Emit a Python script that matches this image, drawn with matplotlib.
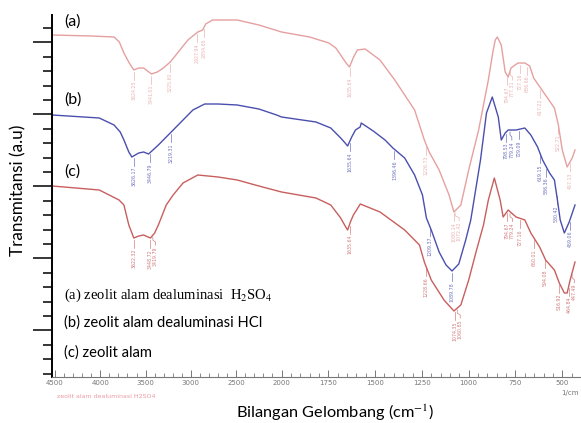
import numpy as np
import matplotlib.pyplot as plt

# Spectra: wavenumber (cm-1) and transmittance (a.u.)
wn_a = [4530, 4100, 3848, 3790, 3739, 3680, 3630, 3575, 3522, 3435, 3370, 3304, 3228, 3130,
        3033, 2924, 2870, 2837, 2761, 2620, 2489, 2250, 2000, 1850, 1747, 1710, 1684, 1655,
        1637, 1615, 1595, 1553, 1474, 1395, 1289, 1237, 1211, 1158, 1105, 1079, 1042, 1000,
        947, 895, 870, 858, 847, 826, 805, 789, 774, 737, 700, 674, 653, 616, 579, 542,
        521, 500, 474, 447, 432]
t_a = [342, 341, 340, 335, 324, 314, 307, 309, 309, 303, 305, 309, 315, 326,
       337, 345, 347, 353, 357, 357, 357, 352, 345, 340, 334, 329, 322, 314,
       310, 320, 327, 328, 317, 297, 267, 237, 225, 207, 182, 165, 172, 207,
       247, 297, 326, 337, 340, 332, 305, 300, 309, 314, 314, 311, 299, 289, 279, 269,
       252, 227, 210, 219, 227]

wn_b = [4530, 4011, 3848, 3780, 3739, 3685, 3652, 3576, 3522, 3467, 3359, 3250, 3141, 2978,
        2848, 2700, 2489, 2250, 2054, 2000, 1816, 1737, 1684, 1660, 1647, 1625, 1605, 1580,
        1574, 1510, 1447, 1405, 1342, 1289, 1247, 1226, 1200, 1158, 1121, 1089, 1053, 1016,
        989, 937, 905, 874, 842, 826, 805, 789, 747, 700, 668, 632, 605, 568, 542, 526,
        511, 489, 463, 432]
t_b = [262, 259, 252, 245, 237, 225, 220, 224, 225, 223, 232, 242, 252, 267,
       273, 273, 272, 268, 262, 260, 255, 249, 239, 234, 231, 240, 247, 250,
       254, 246, 237, 229, 219, 202, 182, 159, 147, 125, 112, 106, 113, 137,
       157, 217, 264, 280, 260, 237, 244, 247, 247, 249, 242, 230, 217, 204, 197, 177,
       157, 144, 155, 172]

wn_c = [4530, 4011, 3793, 3739, 3685, 3630, 3575, 3522, 3446, 3400, 3359, 3272, 3196, 3087,
        2924, 2700, 2489, 2250, 2000, 1816, 1737, 1684, 1660, 1647, 1630, 1616, 1579, 1474,
        1342, 1263, 1237, 1200, 1132, 1079, 1042, 1000, 958, 921, 895, 863, 832, 816, 789,
        747, 700, 668, 621, 589, 542, 516, 489, 474, 458, 432]
t_c = [191, 187, 177, 172, 152, 139, 141, 142, 139, 144, 152, 172, 182, 194,
       202, 200, 197, 191, 185, 179, 172, 159, 151, 147, 156, 162, 173, 165,
       147, 132, 115, 97, 77, 66, 72, 97, 127, 152, 177, 199, 177, 160, 167,
       160, 157, 144, 130, 117, 107, 94, 84, 84, 97, 115]

# peak labels
pk_a = [3624.25, 3441.01, 3225.60, 2927.94, 2854.65, 1635.64, 1226.73, 1080.14, 1072.42,
        794.67, 777.31, 727.16, 686.66, 617.22, 522.71, 457.13]
pk_b = [3626.17, 3446.79, 3219.31, 1635.64, 1396.46, 1209.37, 1089.78, 798.53, 779.24,
        729.09, 619.15, 586.36, 530.42, 459.06]
pk_c = [3622.32, 3448.72, 3419.79, 1635.64, 1228.66, 1074.35, 1060.85, 794.67, 779.24,
        727.16, 650.01, 594.08, 516.92, 464.84, 447.49]

ticks_major = [4500, 4000, 3500, 3000, 2500, 2000, 1750, 1500, 1250, 1000, 750, 500]

col_a = '#e6a0a0'
col_b = '#4a4fae'
col_c = '#c85e5e'


def to_u(w):
    # split axis: 2x expansion below 2000 cm-1
    w = np.asarray(w, float)
    return np.where(w >= 2000, (4500 - w) * 0.092, 230 + (2000 - w) * 0.19)


fig = plt.figure(figsize=(5.81, 4.23), dpi=100)
ax = fig.add_axes([52 / 581, 46 / 423, 529 / 581, 362 / 423])

for wn, t, pk, col in [(wn_a, t_a, pk_a, col_a), (wn_b, t_b, pk_b, col_b), (wn_c, t_c, pk_c, col_c)]:
    u = to_u(wn)
    ax.plot(u, t, color=col, lw=1.0)
    # peak markers, fanned out when two peaks sit close together
    up = to_u(sorted(pk, reverse=True))
    tx = list(up)
    for i in range(1, len(tx)):
        if tx[i] - tx[i - 1] < 5.5:
            tx[i] = tx[i - 1] + 5.5
    for p, x0, x1 in zip(sorted(pk, reverse=True), up, tx):
        tp = np.interp(x0, u, t)
        ax.plot([x0, x0, x1, x1], [tp - 2, tp - 5, tp - 7, tp - 10], color=col, lw=0.5, alpha=0.8)
        ax.text(x1, tp - 11, f"{p:.2f}", rotation=90, fontsize=3.4, color=col, alpha=0.8,
                ha='center', va='top')

ax.set_xlim(-3, 526)
ax.set_ylim(0, 362)

for s in ['top', 'right']:
    ax.spines[s].set_visible(False)
ax.spines['left'].set_linewidth(1.4)
ax.spines['bottom'].set_color('#777777')
ax.spines['bottom'].set_linewidth(0.8)

minor_x = list(np.arange(4500, 2000, -100)) + list(np.arange(2000, 399, -50))
ax.set_xticks(to_u(ticks_major))
ax.set_xticklabels([str(t) for t in ticks_major])
ax.set_xticks(to_u(minor_x), minor=True)
ax.tick_params(axis='x', which='major', direction='in', length=5, width=0.7, color='#777777',
               labelsize=5, labelcolor='#777777', pad=2)
ax.tick_params(axis='x', which='minor', direction='in', length=3, width=0.6, color='#777777')

ax.set_yticks(46.6 + 72 * np.arange(5))
ax.set_yticks(np.arange(3.4, 362, 14.4), minor=True)
ax.tick_params(axis='y', which='major', direction='out', length=14, width=1.1, labelleft=False)
ax.tick_params(axis='y', which='minor', direction='out', length=6.5, width=1.1)

sans = 'Lato'
ax.text(9, 355, '(a)', fontsize=11.5, family=sans, va='center')
ax.text(9, 277, '(b)', fontsize=11.5, family=sans, va='center')
ax.text(9, 205, '(c)', fontsize=11.5, family=sans, va='center')

plt.rcParams['mathtext.fontset'] = 'stix'
ax.text(9, 82, '(a) zeolit alam dealuminasi  H$_2$SO$_4$', fontsize=10.5,
        family='Liberation Serif', va='center')
ax.text(9, 54, '(b) zeolit alam dealuminasi HCl', fontsize=10.6, family=sans, va='center')
ax.text(9, 24, '(c) zeolit alam', fontsize=10.6, family=sans, va='center')

fig.text(57 / 581, 1 - 396 / 423, 'zeolit alam dealuminasi H2SO4', fontsize=4.5,
         color='#e99aa4', va='center')
fig.text(579 / 581, 1 - 393 / 423, '1/cm', fontsize=5, color='#777777', ha='right',
         va='center')

fig.text(18 / 581, 1 - 190 / 423, 'Transmitansi (a.u)', rotation=90, fontsize=12.3,
         family=sans, ha='center', va='center')
fig.text(335 / 581, 1 - 413 / 423, 'Bilangan Gelombang (cm$^{-1}$)', fontsize=11.8,
         family=sans, ha='center', va='center')

fig.savefig('out.png', dpi=100)
